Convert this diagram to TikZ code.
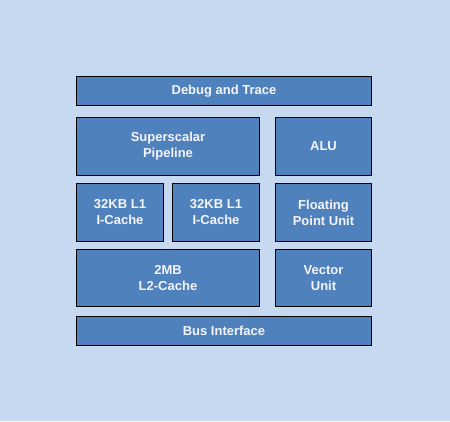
\documentclass[tikz,border=0pt]{standalone}
\usepackage{fontspec}
\setmainfont{Liberation Sans}
\definecolor{bg}{HTML}{C6D9F0}
\definecolor{boxfill}{HTML}{4F81BD}
\definecolor{boxtext}{HTML}{F4F4FA}
\begin{document}
\begin{tikzpicture}[x=1pt,y=-1pt,
  blk/.style={draw=black,line width=1pt,fill=boxfill,text=boxtext,
    font=\fontsize{13}{16}\selectfont\bfseries,align=center}]
\fill[bg] (0,0) rectangle (450,421);
\useasboundingbox (0,0) rectangle (450,421);
\newcommand{\blkbox}[6]{%
  \draw[blk] (#1,#2) rectangle (#3,#4);
  \node[blk,draw=none,fill=none,inner sep=0pt] (#5) at ({(#1+#3)/2},{(#2+#4)/2}) {#6};}
\blkbox{76.5}{76.5}{371.5}{105.5}{dbg}{Debug and Trace}
\blkbox{76.5}{117.5}{259.5}{175.5}{pipe}{Superscalar\\Pipeline}
\blkbox{275.5}{117.5}{371.5}{175.5}{alu}{ALU}
\blkbox{76.5}{183.5}{163.5}{241.5}{lia}{32KB L1\\I-Cache}
\blkbox{172.5}{183.5}{259.5}{241.5}{lib}{32KB L1\\I-Cache}
\blkbox{275.5}{183.5}{371.5}{241.5}{fpu}{Floating\\Point Unit}
\blkbox{76.5}{249.5}{259.5}{306.5}{ltwo}{2MB\\L2-Cache}
\blkbox{275.5}{249.5}{371.5}{306.5}{vec}{Vector\\Unit}
\blkbox{76.5}{316.5}{371.5}{345.5}{bus}{Bus Interface}
\end{tikzpicture}
\end{document}
